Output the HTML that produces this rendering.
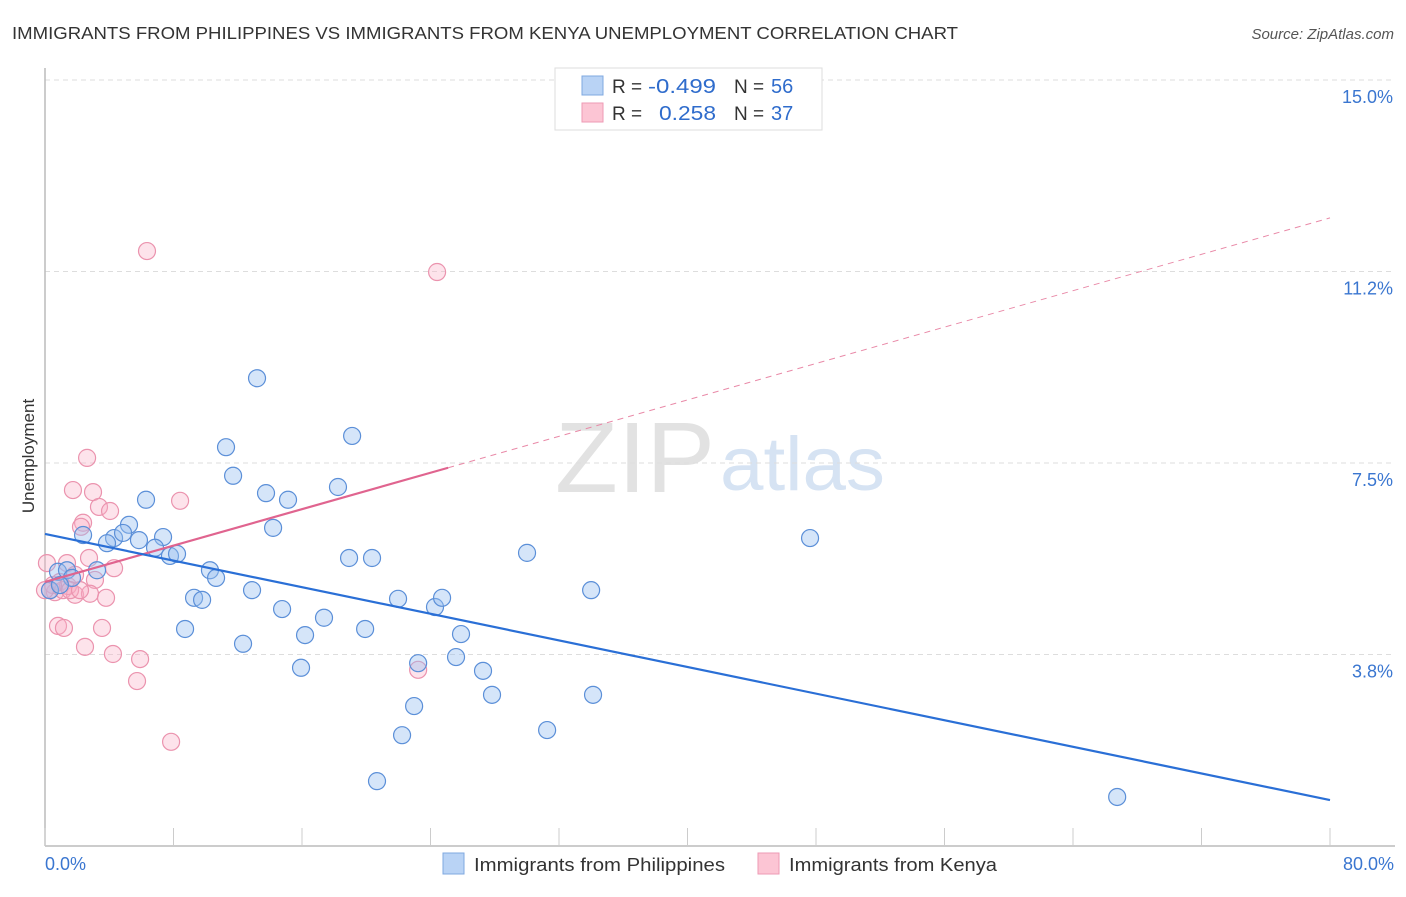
<!DOCTYPE html>
<html><head><meta charset="utf-8"><style>
body{margin:0;background:#fff;font-family:"Liberation Sans",sans-serif}
svg text{font-family:"Liberation Sans",sans-serif}
</style></head><body>
<svg id="c" width="1406" height="892" viewBox="0 0 1406 892">
<text x="12" y="39" font-size="17.5" fill="#333" textLength="946" lengthAdjust="spacingAndGlyphs">IMMIGRANTS FROM PHILIPPINES VS IMMIGRANTS FROM KENYA UNEMPLOYMENT CORRELATION CHART</text>
<text x="1394" y="39" font-size="15" fill="#555" font-style="italic" text-anchor="end">Source: ZipAtlas.com</text>
<text x="555" y="492" font-size="100" fill="#e2e2e2" textLength="160" lengthAdjust="spacingAndGlyphs" font-family="Liberation Serif">ZIP</text>
<text x="720" y="490" font-size="76" fill="#d6e3f3" textLength="165" lengthAdjust="spacingAndGlyphs">atlas</text>
<g id="grid"></g>
<g id="axes"></g>
<g id="marks"></g>
<text transform="translate(34,456) rotate(-90)" font-size="17" fill="#333" text-anchor="middle">Unemployment</text>
<g>
<rect x="555" y="68" width="267" height="62" fill="#fff" stroke="#ddd"/>
<rect x="582" y="76" width="21" height="19" fill="#b9d3f5" stroke="#7fa8e0"/>
<rect x="582" y="103" width="21" height="19" fill="#fcc5d4" stroke="#ee9ab4"/>
<text x="612" y="93" font-size="19" fill="#333">R =</text>
<text x="648" y="93" font-size="20" fill="#2f6ccc" textLength="68" lengthAdjust="spacingAndGlyphs">-0.499</text>
<text x="734" y="93" font-size="19" fill="#333">N =</text>
<text x="771" y="93" font-size="20" fill="#2f6ccc">56</text>
<text x="612" y="120" font-size="19" fill="#333">R =</text>
<text x="659" y="120" font-size="20" fill="#2f6ccc" textLength="57" lengthAdjust="spacingAndGlyphs">0.258</text>
<text x="734" y="120" font-size="19" fill="#333">N =</text>
<text x="771" y="120" font-size="20" fill="#2f6ccc">37</text>
</g>
<g>
<rect x="443" y="853" width="21" height="21" fill="#b9d3f5" stroke="#7fa8e0"/>
<text x="474" y="871" font-size="18" fill="#333" textLength="251" lengthAdjust="spacingAndGlyphs">Immigrants from Philippines</text>
<rect x="758" y="853" width="21" height="21" fill="#fcc5d4" stroke="#ee9ab4"/>
<text x="789" y="871" font-size="18" fill="#333" textLength="208" lengthAdjust="spacingAndGlyphs">Immigrants from Kenya</text>
</g>
</svg>
<script>
const yTicks=[15,11.25,7.5,3.75];
const yTickLabels=["15.0%","11.2%","7.5%","3.8%"];
const xTickLabels=["0.0%","80.0%"];
const philX=[13.20,11.27,19.12,11.71,13.76,15.13,18.24,6.29,5.23,14.20,2.37,4.30,4.86,3.86,5.85,7.35,6.85,7.78,8.22,18.93,20.36,30.01,47.63,10.27,10.65,3.24,0.81,1.37,1.68,0.31,12.89,9.28,9.78,14.76,21.98,24.28,24.72,34.00,17.37,19.93,25.90,16.19,8.72,12.33,15.94,23.23,25.59,27.27,27.83,34.12,22.98,22.23,31.26,20.67,66.75,0.93];
const philY=[9.16,7.81,8.03,7.25,6.91,6.78,7.03,6.78,6.29,6.23,6.09,6.03,6.13,5.93,5.99,6.05,5.84,5.68,5.72,5.64,5.64,5.74,6.03,5.40,5.25,5.40,5.37,5.40,5.25,5.01,5.01,4.86,4.82,4.64,4.84,4.68,4.86,5.01,4.47,4.25,4.15,4.13,4.25,3.96,3.49,3.58,3.70,3.43,2.96,2.96,2.74,2.17,2.27,1.27,0.96,5.11];
const kenX=[6.35,24.41,2.62,1.74,2.99,8.41,3.36,4.05,2.37,2.24,0.12,1.37,2.74,4.30,3.11,0.93,0.31,0.62,1.12,1.87,2.80,3.80,1.43,0.81,1.18,3.55,2.49,4.23,5.92,23.23,5.73,7.85,1.87,0.50,0.00,1.56,2.18];
const kenY=[11.65,11.24,7.60,6.97,6.93,6.76,6.64,6.56,6.33,6.25,5.54,5.54,5.64,5.44,5.21,5.17,5.01,4.97,5.01,4.92,4.94,4.86,5.09,4.31,4.27,4.27,3.90,3.76,3.66,3.45,3.23,2.04,5.31,5.11,5.01,5.01,5.01];
const philTrend=[6.11,0.90];
const kenTrend=[5.17,12.3];
const kenSolidEnd=25.1;

const NS="http://www.w3.org/2000/svg";
const X=v=>45+v*(1285/80);
const Y=v=>846-v*(766/15);
function mk(tag,attrs,parent){const e=document.createElementNS(NS,tag);for(const k in attrs)e.setAttribute(k,attrs[k]);parent.appendChild(e);return e;}
const grid=document.getElementById('grid'),axes=document.getElementById('axes'),marks=document.getElementById('marks');
yTicks.forEach((t,i)=>{
  const l=mk('line',{x1:45,x2:1395,y1:Y(t),y2:Y(t),stroke:'#ddd','stroke-dasharray':'5,4'},grid);
  
  
  const tx=mk('text',{x:1393,y:Y(t)+23,'font-size':18,fill:'#3a76d0','text-anchor':'end'},axes);
  tx.textContent=yTickLabels[i];
  
  
});
const ax=mk('line',{x1:45,x2:1395,y1:846,y2:846,stroke:'#bbb','stroke-width':1.5},axes);


const ay=mk('line',{x1:45,x2:45,y1:68,y2:846,stroke:'#bbb','stroke-width':1.5},axes);


for(let i=0;i<=10;i++){
  const t=mk('line',{x1:X(i*8),x2:X(i*8),y1:828,y2:846,stroke:'#ccc'},axes);
  
  
}
[[0,'start',45],[80,'end',1394]].forEach((d,i)=>{
  const tx=mk('text',{x:d[2],y:870,'font-size':18,fill:'#3a76d0','text-anchor':d[1]},axes);
  tx.textContent=xTickLabels[i];
  
  
});
kenX.forEach((x,i)=>{
  const c=mk('circle',{cx:X(x),cy:Y(kenY[i]),r:8.5,fill:'rgba(248,175,198,0.35)',stroke:'#eb93ae','stroke-width':1.2},marks);
  
  
});
philX.forEach((x,i)=>{
  const c=mk('circle',{cx:X(x),cy:Y(philY[i]),r:8.5,fill:'rgba(150,190,240,0.4)',stroke:'#5b8fd8','stroke-width':1.2},marks);
  
  
});
const kAt=x=>kenTrend[0]+(kenTrend[1]-kenTrend[0])*x/80;
const kd=mk('line',{x1:X(kenSolidEnd),y1:Y(kAt(kenSolidEnd)),x2:X(80),y2:Y(kenTrend[1]),stroke:'#e98aa8','stroke-width':1,'stroke-dasharray':'6,5'},marks);


const ks=mk('line',{x1:X(0),y1:Y(kenTrend[0]),x2:X(kenSolidEnd),y2:Y(kAt(kenSolidEnd)),stroke:'#e0648f','stroke-width':2.2},marks);


const pt=mk('line',{x1:X(0),y1:Y(philTrend[0]),x2:X(80),y2:Y(philTrend[1]),stroke:'#2a6fd6','stroke-width':2.2},marks);


</script>
</body></html>
